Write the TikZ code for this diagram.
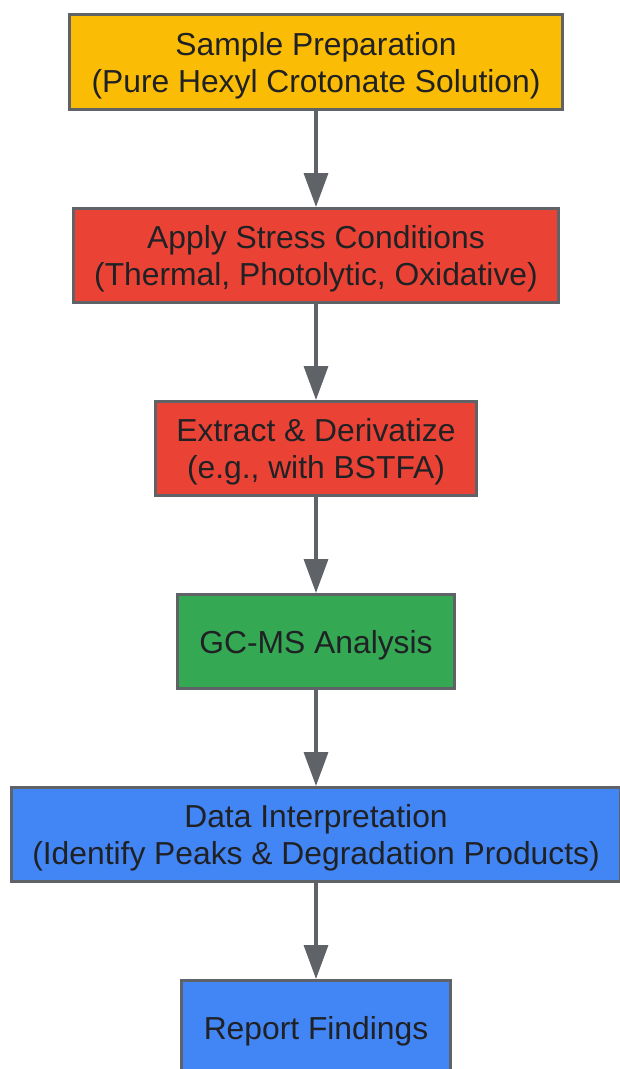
\documentclass[tikz,border=0pt]{standalone}
\usepackage{fontspec}
\setmainfont{Liberation Sans}
\usetikzlibrary{arrows.meta}
\definecolor{edgegray}{HTML}{5F6368}
\definecolor{txt}{HTML}{202124}
\definecolor{gyellow}{HTML}{FBBC05}
\definecolor{gred}{HTML}{EA4335}
\definecolor{ggreen}{HTML}{34A853}
\definecolor{gblue}{HTML}{4285F4}
\tikzset{
  stepbox/.style={draw=edgegray, line width=3pt, rectangle, inner sep=0pt},
  steptext/.style={inner sep=0pt, text=txt, align=center, font=\fontsize{31.8}{37}\selectfont},
  flow/.style={draw=edgegray, line width=3.5pt, -{Triangle[width=24pt,length=34pt]}}
}
\begin{document}
\begin{tikzpicture}[x=1pt,y=-1pt]
\useasboundingbox (0,0) rectangle (620,1069);
\clip (0,0) rectangle (620,1069);
\node[stepbox, fill=gyellow, minimum width=493pt, minimum height=95pt] (a) at (316,62) {};
\node[stepbox, fill=gred, minimum width=485pt, minimum height=94pt] (b) at (316,255.5) {};
\node[stepbox, fill=gred, minimum width=321pt, minimum height=94pt] (c) at (316,448.5) {};
\node[stepbox, fill=ggreen, minimum width=277pt, minimum height=94pt] (d) at (316,641.5) {};
\node[stepbox, fill=gblue, minimum width=609pt, minimum height=94pt] (e) at (316,834.5) {};
\node[stepbox, fill=gblue, minimum width=269pt, minimum height=94pt] (f) at (316,1027.5) {};
\node[steptext] (ta) at ([yshift=-3.5pt]a.center) {Sample Preparation\\(Pure Hexyl Crotonate Solution)};
\node[steptext] (tb) at ([yshift=-3.5pt]b.center) {Apply Stress Conditions\\(Thermal, Photolytic, Oxidative)};
\node[steptext] (tc) at ([yshift=-3.5pt]c.center) {Extract \& Derivatize\\(e.g., with BSTFA)};
\node[steptext] (td) at ([yshift=-3.5pt]d.center) {GC-MS Analysis};
\node[steptext] (te) at ([yshift=-3.5pt]e.center) {Data Interpretation\\(Identify Peaks \& Degradation Products)};
\node[steptext] (tf) at ([yshift=-3.5pt]f.center) {Report Findings};
\draw[flow] (a.south) -- (b.north);
\draw[flow] (b.south) -- (c.north);
\draw[flow] (c.south) -- (d.north);
\draw[flow] (d.south) -- (e.north);
\draw[flow] (e.south) -- (f.north);
\end{tikzpicture}
\end{document}
